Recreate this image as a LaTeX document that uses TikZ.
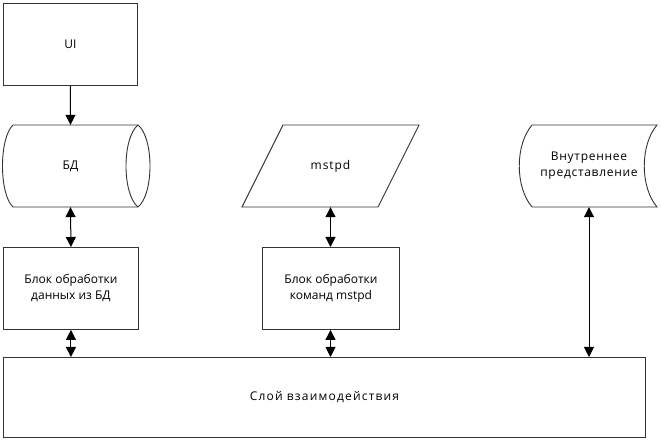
\documentclass[tikz,border=0pt]{standalone}
\usepackage{fontspec}
\setmainfont{Open Sans}
\usetikzlibrary{arrows.meta}
\begin{document}
\begin{tikzpicture}[x=1pt,y=-1pt,
  outline/.style={draw=black!80,line width=0.9pt},
  lbl/.style={font=\fontsize{12}{16}\selectfont,align=center,inner sep=0pt},
  box/.style={outline,lbl,rectangle,anchor=north west},
  tip/.tip={Triangle[length=10pt,width=10pt]},
  link/.style={line width=1pt,tip-tip},
  onelink/.style={line width=1pt,-tip}]
\useasboundingbox (0,0) rectangle (661,443);
\fill[white] (0,0) rectangle (661,443);
% UI
\node[box,minimum width=134pt,minimum height=82pt] (ui) at (3,3) {UI};
% DB cylinder
\node[lbl,minimum width=135pt,minimum height=82pt] (bd) at (70.5,166) {БД};
\draw[outline] (13,125) -- (138,125) .. controls (154,138) and (154,194) .. (138,207) -- (13,207)
   .. controls (-1,194) and (-1,138) .. (13,125);
\draw[outline] (138,125) .. controls (122,138) and (122,194) .. (138,207);
% mstpd parallelogram
\node[lbl,minimum width=136pt,minimum height=82pt] (ms) at (330.5,166) {\addfontfeature{LetterSpace=8}mstpd};
\draw[outline] (283,125) -- (419,125) -- (378,207) -- (242,207) -- cycle;
% internal representation
\node[lbl,minimum width=120pt,minimum height=82pt] (ir) at (589,166) {\addfontfeature{LetterSpace=6}Внутреннее\\\addfontfeature{LetterSpace=6}представление};
\draw[outline] (532,125) -- (657,125) .. controls (640,145) and (640,187) .. (657,207) -- (532,207)
   .. controls (515,187) and (515,145) .. (532,125);
% processing blocks
\node[box,minimum width=135pt,minimum height=82pt] (b1) at (3,247) {Блок обработки\\данных из БД};
\node[box,minimum width=137pt,minimum height=82pt] (b2) at (262,247) {Блок обработки\\команд mstpd};
% layer
\node[box,minimum width=642pt,minimum height=80pt] (layer) at (3,357) {\addfontfeature{LetterSpace=10}Слой взаимодействия};
% connectors
\draw[onelink] (ui.south) -- (bd.north);
\draw[link] (bd.south) -- (b1.north);
\draw[link] (b1.south) -- (b1.south |- layer.north);
\draw[link] (ms.south) -- (ms.south |- b2.north);
\draw[link] (ms.south |- b2.south) -- (ms.south |- layer.north);
\draw[link] (ir.south) -- (ir.south |- layer.north);
\end{tikzpicture}
\end{document}
